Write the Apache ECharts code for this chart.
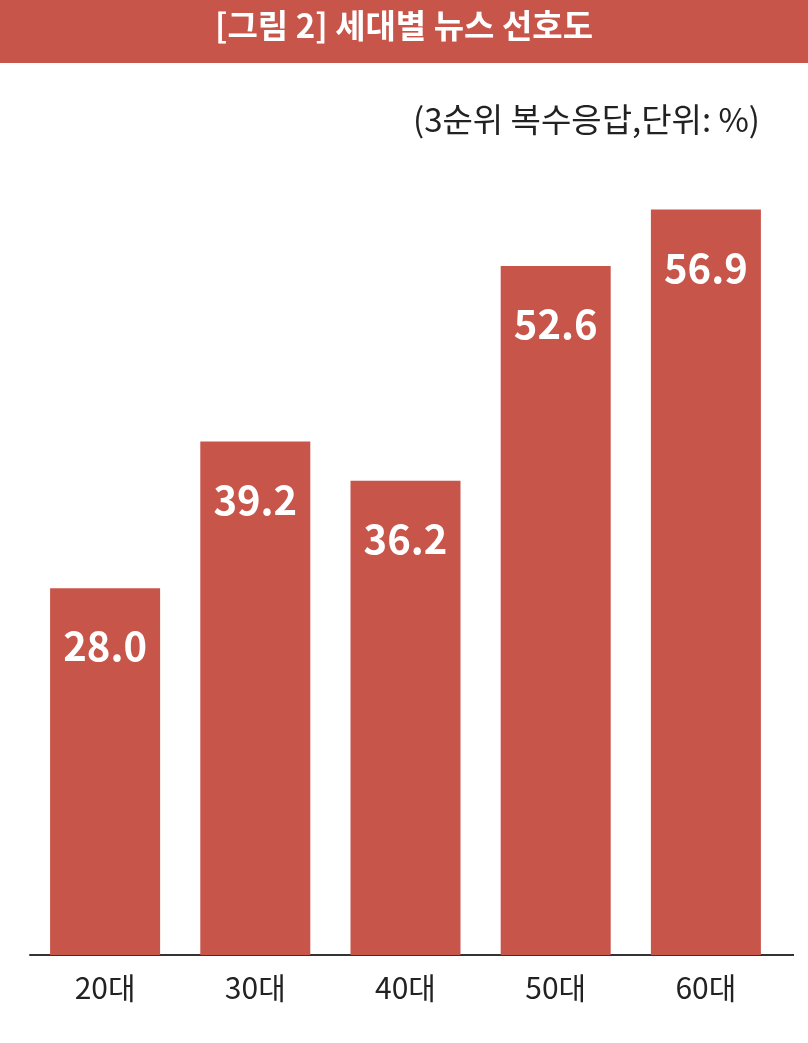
<!DOCTYPE html>
<html><head><meta charset="utf-8">
<script src="https://cdn.jsdelivr.net/npm/echarts@6/dist/echarts.min.js"></script>
<style>html,body{margin:0;padding:0;background:#fff}#c{width:808px;height:1043px}</style>
</head><body><div id="c"></div>
<script>
const categories = ['20대', '30대', '40대', '50대', '60대'];
const values = [28.0, 39.2, 36.2, 52.6, 56.9];
const titleText = '[그림 2] 세대별 뉴스 선호도';
const unitText = '(3순위 복수응답,단위: %)';

const RED = '#C8554A';
const FONT = '"Noto Sans CJK KR", "Noto Sans", sans-serif';
const chart = echarts.init(document.getElementById('c'), null, {renderer: 'canvas'});
chart.setOption({
  animation: false,
  backgroundColor: '#fff',
  graphic: [
    {type: 'rect', left: 0, top: 0, shape: {width: 808, height: 63}, style: {fill: RED}, z: 0},
    {type: 'text', left: 'center', top: 9, style: {text: titleText, fill: '#fff', font: 'bold 33px ' + FONT}, z: 1},
    {type: 'text', right: 48, top: 103, style: {text: unitText, fill: '#222', font: '33px ' + FONT}, z: 1},
    {type: 'rect', left: 780, top: 954, shape: {width: 14, height: 2}, style: {fill: '#333'}, z: 1}
  ],
  grid: {left: 30, right: 27, top: 169, bottom: 88},
  xAxis: {
    type: 'category', data: categories,
    axisLine: {lineStyle: {color: '#333', width: 2}},
    axisTick: {show: false},
    axisLabel: {color: '#222', fontSize: 30, fontFamily: FONT, margin: 18}
  },
  yAxis: {type: 'value', min: 0, max: 60, show: false, splitLine: {show: false}},
  series: [{
    type: 'bar', data: values, barWidth: 110,
    itemStyle: {color: RED},
    label: {show: true, position: 'insideTop', distance: 38, color: '#fff',
      fontSize: 40, fontWeight: 'bold', fontFamily: FONT,
      formatter: p => p.value.toFixed(1)}
  }]
});
</script></body></html>
